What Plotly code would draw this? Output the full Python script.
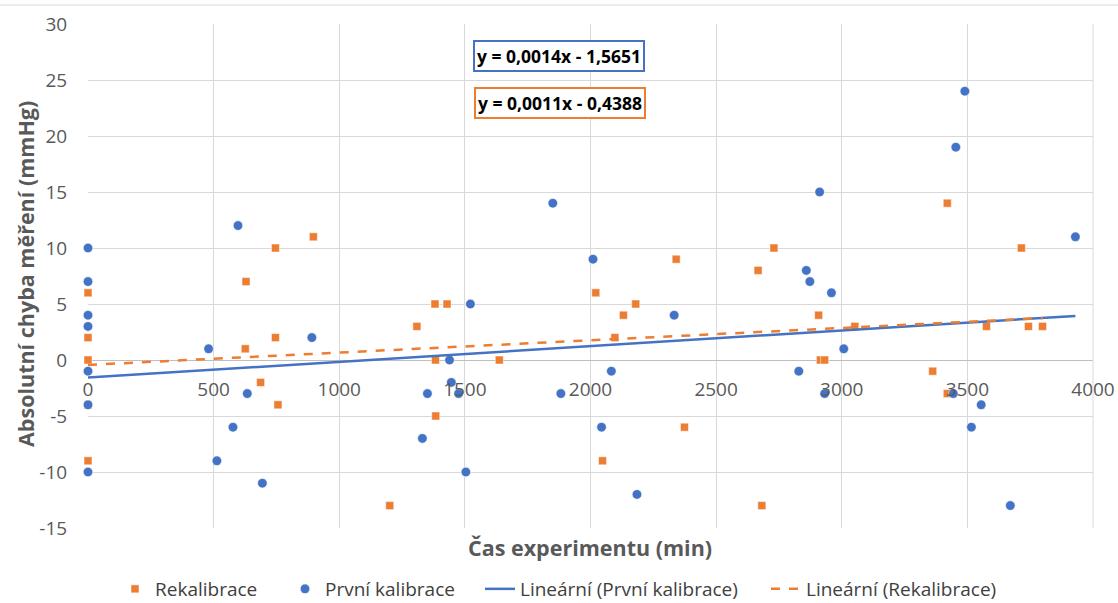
import plotly.graph_objects as go

# Data
prvni_x = [0, 0, 0, 0, 0, 0, 0, 480, 513, 577, 597, 634, 694, 891, 1331, 1351, 1439, 1446, 1475, 1504,
           1522, 1850, 1882, 2010, 2044, 2083, 2185, 2333, 2829, 2859, 2873, 2912, 2932, 2959, 3008,
           3444, 3454, 3490, 3516, 3555, 3671, 3930]
prvni_y = [10, 7, 4, 3, -1, -4, -10, 1, -9, -6, 12, -3, -11, 2, -7, -3, 0, -2, -3, -10,
           5, 14, -3, 9, -6, -1, -12, 4, -1, 8, 7, 15, -3, 6, 1,
           -3, 19, 24, -6, -4, -13, 11]

rekal_x = [0, 0, 0, 0, 0, 626, 629, 687, 746, 746, 756, 897, 1201, 1309, 1381, 1383, 1384, 1429, 1637,
           2021, 2048, 2097, 2131, 2180, 2341, 2374, 2667, 2682, 2730, 2908, 2915, 2932, 3052, 3362,
           3420, 3420, 3576, 3715, 3743, 3799]
rekal_y = [6, 2, 0, -4, -9, 1, 7, -2, 2, 10, -4, 11, -13, 3, 5, 0, -5, 5, 0,
           6, -9, 2, 4, 5, 9, -6, 8, -13, 10, 4, 0, 0, 3, -1,
           14, -3, 3, 10, 3, 3]

# Trendline coefficients (from the chart's equations)
prvni_slope, prvni_intercept = 0.0014, -1.5651
rekal_slope, rekal_intercept = 0.0011, -0.4388
prvni_eq = "y = 0,0014x - 1,5651"
rekal_eq = "y = 0,0011x - 0,4388"

x_ticks = [0, 500, 1000, 1500, 2000, 2500, 3000, 3500, 4000]
y_ticks = [-15, -10, -5, 0, 5, 10, 15, 20, 25, 30]

BLUE = "#4472C4"
ORANGE = "#ED7D31"
GRID = "#D9D9D9"
TXT = "#595959"
FONT = "Open Sans"

W, H = 1118, 603
ML, MR, MT, MB = 88, 25, 24, 75
PW = W - ML - MR
PH = H - MT - MB


def xp(px):
    return (px - ML) / PW


def yp(py):
    return (H - MB - py) / PH


fig = go.Figure()

fig.add_trace(go.Scatter(
    x=rekal_x, y=rekal_y, mode="markers", name="Rekalibrace", legend="legend",
    marker=dict(symbol="square", size=8, color=ORANGE, line=dict(width=0.5, color="white")),
    cliponaxis=False))
fig.add_trace(go.Scatter(
    x=prvni_x, y=prvni_y, mode="markers", name="První kalibrace", legend="legend2",
    marker=dict(symbol="circle", size=9.5, color=BLUE, line=dict(width=0.5, color="white")),
    cliponaxis=False))

px0, px1 = min(prvni_x), max(prvni_x)
fig.add_trace(go.Scatter(
    x=[px0, px1], y=[prvni_slope * px0 + prvni_intercept, prvni_slope * px1 + prvni_intercept],
    mode="lines", name="Lineární (První kalibrace)", legend="legend3",
    line=dict(color=BLUE, width=2.5), cliponaxis=False))
rx0, rx1 = min(rekal_x), max(rekal_x)
fig.add_trace(go.Scatter(
    x=[rx0, rx1], y=[rekal_slope * rx0 + rekal_intercept, rekal_slope * rx1 + rekal_intercept],
    mode="lines", name="Lineární (Rekalibrace)", legend="legend4",
    line=dict(color=ORANGE, width=2.5, dash="dash"), cliponaxis=False))

leg_font = dict(family=FONT, size=19, color="#404040")
leg_y = yp(589)


def leg(px):
    return dict(orientation="h", x=xp(px), xanchor="left", y=leg_y, yanchor="middle",
                font=leg_font, bgcolor="rgba(0,0,0,0)", borderwidth=0)


fig.update_layout(
    width=W, height=H,
    margin=dict(l=ML, r=MR, t=MT, b=MB, autoexpand=False),
    plot_bgcolor="white", paper_bgcolor="white",
    font=dict(family=FONT, color=TXT, size=19),
    xaxis=dict(
        range=[0, 4000], tickvals=x_ticks, ticktext=[str(v) for v in x_ticks],
        showgrid=True, gridcolor=GRID, gridwidth=1, zeroline=False,
        showline=False, anchor="free", position=1/3,
        ticks="outside", ticklen=12, tickcolor="rgba(0,0,0,0)",
        tickfont=dict(family=FONT, size=19, color=TXT), fixedrange=True),
    yaxis=dict(
        range=[-15, 30], tickvals=y_ticks, ticktext=[str(v) for v in y_ticks],
        showgrid=True, gridcolor=GRID, gridwidth=1,
        zeroline=True, zerolinecolor="#BFBFBF", zerolinewidth=1,
        showline=False, ticks="outside", ticklen=16, tickcolor="rgba(0,0,0,0)",
        tickfont=dict(family=FONT, size=19, color=TXT), fixedrange=True),
    legend=leg(115),
    legend2=leg(285),
    legend3=leg(480),
    legend4=leg(766),
    showlegend=True,
)

# Right border gridline and top chart border
fig.add_shape(type="line", xref="paper", yref="paper", x0=1, x1=1, y0=0, y1=1,
              line=dict(color=GRID, width=1))
fig.add_shape(type="line", xref="paper", yref="paper", x0=xp(0), x1=xp(W), y0=yp(5), y1=yp(5),
              line=dict(color=GRID, width=1))

# Axis titles
fig.add_annotation(text="<b>Čas experimentu (min)</b>", xref="paper", yref="paper",
                   x=xp(590), y=yp(547), xanchor="center", yanchor="middle", showarrow=False,
                   font=dict(family=FONT, size=21.5, color=TXT))
fig.add_annotation(text="<b>Absolutní chyba měření (mmHg)</b>", xref="paper", yref="paper",
                   x=xp(25), y=yp(274), xanchor="center", yanchor="middle", textangle=-90,
                   showarrow=False, font=dict(family=FONT, size=21.5, color=TXT))

# Trendline equations
fig.add_annotation(text="<b>" + prvni_eq + "</b>", x=1873, y=27.15, xref="x", yref="y",
                   showarrow=False, bordercolor=BLUE, borderwidth=2, borderpad=2,
                   bgcolor="white", font=dict(family=FONT, size=17.5, color="black"))
fig.add_annotation(text="<b>" + rekal_eq + "</b>", x=1877, y=22.95, xref="x", yref="y",
                   showarrow=False, bordercolor=ORANGE, borderwidth=2, borderpad=2,
                   bgcolor="white", font=dict(family=FONT, size=17.5, color="black"))

fig.write_html("out.html")
